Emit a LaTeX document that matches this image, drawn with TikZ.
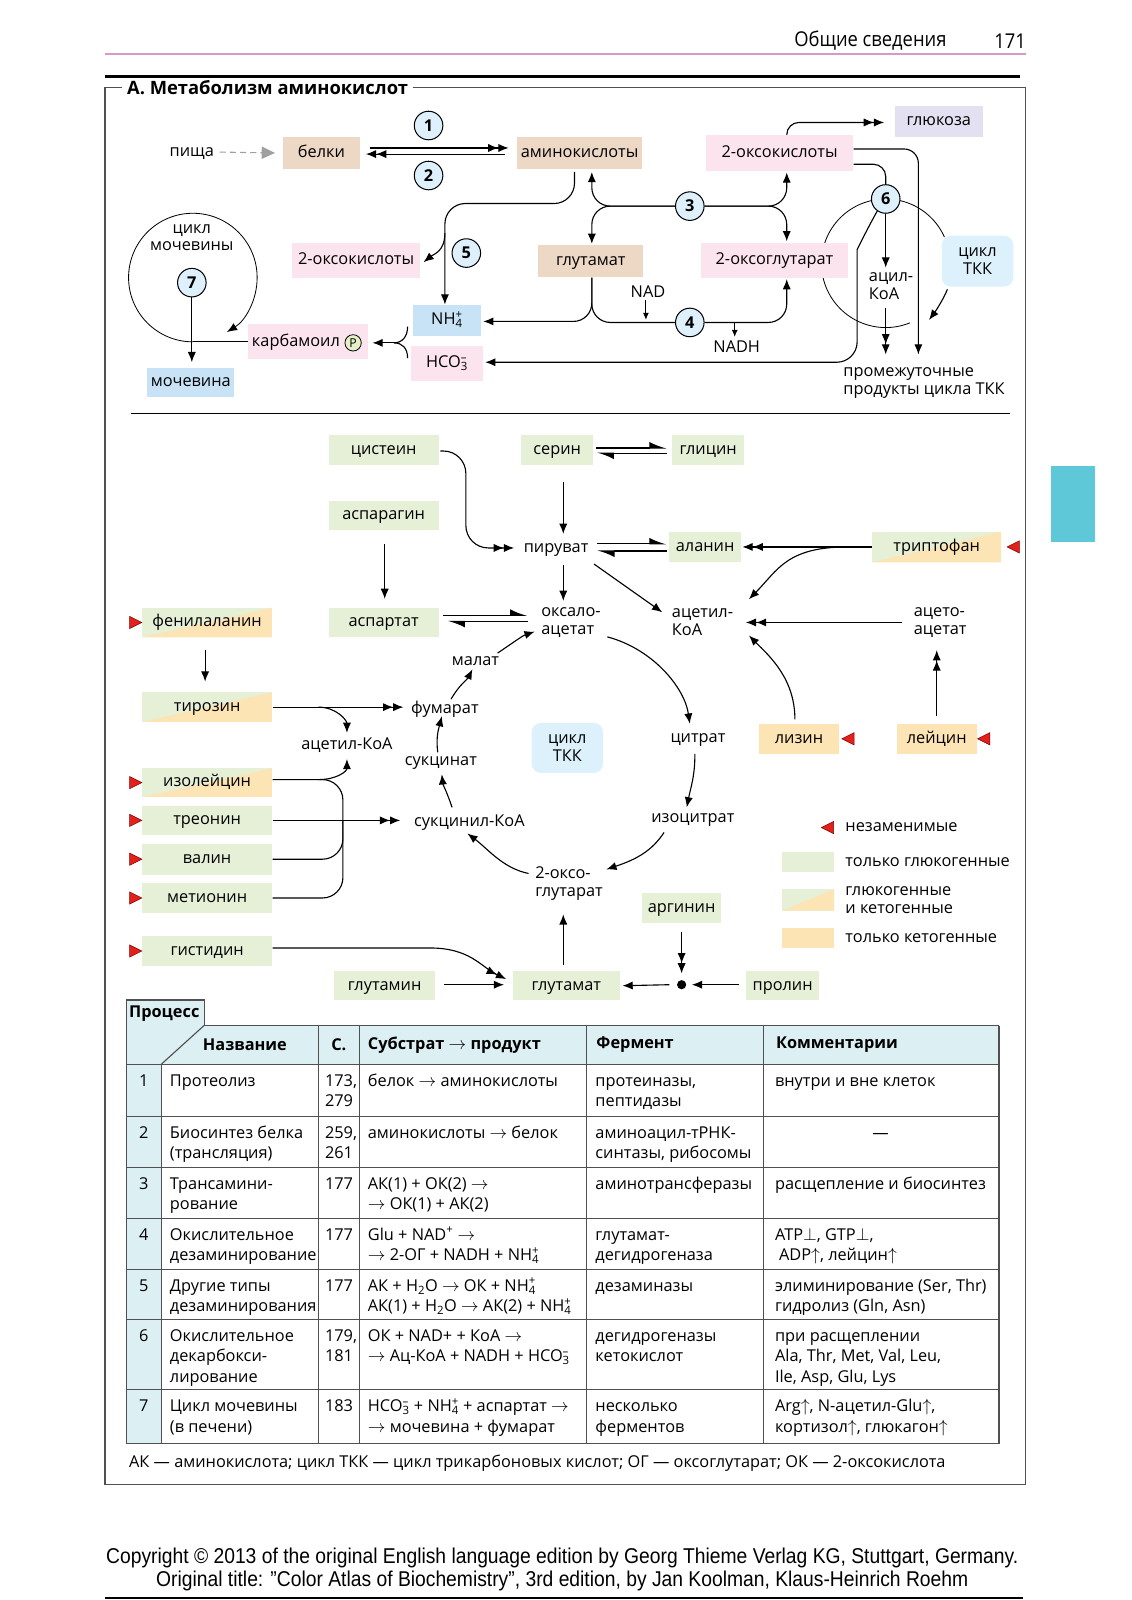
\documentclass[tikz,border=0pt]{standalone}
\usepackage{fontspec}
\setmainfont{Open Sans}
\newfontfamily\narrowfont{Liberation Sans}
\usetikzlibrary{arrows.meta,calc}

\definecolor{tanc}{HTML}{EDD7C5}
\definecolor{pinkc}{HTML}{FCE4EE}
\definecolor{lavc}{HTML}{E3E1F1}
\definecolor{bluec}{HTML}{C8E3F5}
\definecolor{tcac}{HTML}{DDF1FC}
\definecolor{numc}{HTML}{DDF0FB}
\definecolor{grnc}{HTML}{E5F0D7}
\definecolor{orgc}{HTML}{FDE4B5}
\definecolor{redc}{HTML}{E2211C}
\definecolor{thc}{HTML}{DCEFF3}
\definecolor{pkline}{HTML}{D59AC8}
\definecolor{tabc}{HTML}{5FC8D8}
\definecolor{frmc}{HTML}{505050}
\definecolor{phc}{HTML}{E5F0C8}

\newcommand\dfont{\fontsize{16}{17.5}\selectfont}
\newcommand\tfont{\fontsize{16}{20}\selectfont}
\newcommand\ion[2]{\rlap{\textsuperscript{#2}}\textsubscript{#1}}

\tikzset{
  essR/.pic={\filldraw[fill=redc, draw=red!50!black, line width=.5pt] (0,-6) -- (12,0) -- (0,6) -- cycle;},
  essL/.pic={\filldraw[fill=redc, draw=red!50!black, line width=.5pt] (0,0) -- (12,-6) -- (12,6) -- cycle;}
}

\begin{document}
\begin{tikzpicture}[x=1pt,y=-1pt,
    every node/.style={font=\dfont, inner sep=1pt},
    line width=1.1pt,
    lbl/.style={text height=8.5pt, text depth=0pt},
    mlbl/.style={align=left, anchor=west},
    box/.style={inner sep=0pt, text height=8.5pt, text depth=0pt},
    tanbox/.style={box, fill=tanc},
    pinkbox/.style={box, fill=pinkc},
    bluebox/.style={box, fill=bluec},
    lavbox/.style={box, fill=lavc},
    grnbox/.style={box, fill=grnc},
    orgbox/.style={box, fill=orgc},
    splitbox/.style={box, fill=grnc, path picture={\fill[orgc] (path picture bounding box.south west) -- (path picture bounding box.north east) -- (path picture bounding box.south east) -- cycle;}},
    tcabox/.style={fill=tcac, rounded corners=9pt, align=center, inner sep=0pt},
    num/.style={circle, draw, line width=1pt, fill=numc, minimum size=28pt, inner sep=0pt, font=\dfont\bfseries},
    arcline/.style={line width=0.8pt},
    ar/.style={-{Latex[length=10pt,width=8pt]}},
    dar/.style={-{Latex[length=10pt,width=8pt]Latex[length=10pt,width=8pt]}},
    sar/.style={-{Latex[length=7pt,width=6pt]}},
    harp/.style={-{Latex[left,length=15pt,width=12pt]}},
    fd/.style={draw=gray!75, dash pattern=on 6pt off 4pt, -{Triangle[length=13pt,width=12pt,fill=gray!75]}},
    frm/.style={draw=frmc, line width=1.3pt},
    tline/.style={draw=frmc, line width=1.1pt},
    cell/.style={anchor=north west, inner sep=0pt, align=left, font=\tfont},
    hcell/.style={font=\tfont\bfseries, inner sep=0pt}]

\useasboundingbox (0,0) rectangle (1109,1568);

% page head
\node[font=\fontsize{20}{24}\selectfont] (hd) at (853,40) {\scalebox{0.9}[1]{Общие сведения}};
\node[font=\fontsize{20}{24}\selectfont] (pg) at (990,40) {\scalebox{0.9}[1]{171}};
\draw[pkline, line width=1.4pt] (103,53) -- (1005,53);
\draw[line width=2.6pt] (103,75) -- (1000,75);
\fill[tabc] (1030,457) rectangle (1073,531);

% frame and title
\node[anchor=west, inner sep=4pt, font=\fontsize{18}{20}\selectfont\bfseries] (ttl) at (120,86) {А. Метаболизм аминокислот};
\draw[frm] (ttl.east) -- (1005,86) -- (1005,1455) -- (103,1455) -- (103,86) -- (ttl.west);

% cycles drawn below the boxes
\coordinate (tkc) at (868,258);
\coordinate (uc) at (189,272);
\draw[arcline] (tkc) ++(68:63) arc[start angle=68, end angle=336, radius=63];
\draw[arcline, ar] (uc) ++(90:63) arc[start angle=90, end angle=418, radius=63];

% ---------- upper part
\node[lbl] (food) at (188,149) {пища};
\node[tanbox, minimum width=76pt, minimum height=31pt] (prot) at (315,150) {белки};
\node[tanbox, minimum width=122pt, minimum height=32pt] (aa) at (568,150) {аминокислоты};
\node[pinkbox, minimum width=144pt, minimum height=35pt] (oxoR) at (764,150) {2-оксокислоты};
\node[lavbox, minimum width=86pt, minimum height=30pt] (gluc) at (920,119) {глюкоза};
\node[tanbox, minimum width=103pt, minimum height=31pt] (glu) at (579,256) {глутамат};
\node[pinkbox, minimum width=144pt, minimum height=34pt] (og) at (759,255) {2-оксоглутарат};
\node[pinkbox, minimum width=125pt, minimum height=34pt] (oxoL) at (349,255) {2-оксокислоты};
\node[bluebox, minimum width=66pt, minimum height=30pt] (nh4) at (438,314) {NH\ion{4}{+}};
\node[pinkbox, minimum width=70pt, minimum height=34pt] (hco3) at (438,356) {HCO\ion{3}{–}};
\node[pinkbox, minimum width=117pt, minimum height=34pt] (carb) at (302,335) {карбамоил\kern24pt};
\node[circle, draw, line width=.8pt, fill=phc, inner sep=0pt, minimum size=16pt, font=\fontsize{12}{12}\selectfont] (phos) at ($(carb.east)+(-15,1)$) {P};
\node[bluebox, minimum width=85pt, minimum height=29pt] (urea) at (187,375) {мочевина};
\node[tcabox, minimum width=70pt, minimum height=50pt] (tcaT) at (958,256) {цикл\\ТКК};
\node[align=center] (ucyc) at (188,233) {цикл\\мочевины};
\node[mlbl] (acyl) at (850,280) {ацил-\\КоА};
\node[mlbl] (interm) at (825,375) {промежуточные\\продукты цикла ТКК};
\node[lbl] (nad) at (635,287) {NAD};
\node[lbl] (nadh) at (722,341) {NADH};
\foreach \k/\px/\py in {1/420/123, 2/420/172, 3/676/202, 4/676/316, 5/457/248, 6/868/195, 7/188/277}
  \node[num] (n\k) at (\px,\py) {\k};

% protein turnover
\draw[fd, shorten <=4pt, shorten >=7pt] (food.east) -- (prot.west);
\draw[dar] ($(prot.east)+(9,-5)$) -- ($(aa.west)+(-8,-5)$);
\draw[dar] ($(aa.west)+(-12,1)$) -- ($(prot.east)+(5,1)$);
\draw[dar, rounded corners=12pt] ($(oxoR.north)+(7,0)$) |- ($(gluc.west)+(-10,1)$);

% transamination (3)
\draw[ar, rounded corners=18pt] (n3.west) -| ($(aa.south)+(12,2)$);
\draw[ar, rounded corners=18pt] (n3.west) -| ($(glu.north)+(1,-1)$);
\draw[ar, rounded corners=18pt] (n3.east) -| ($(oxoR.south)+(7,1)$);
\draw[ar, rounded corners=18pt] (n3.east) -| ($(og.north)+(12,-1)$);

% oxidative deamination (4)
\draw[rounded corners=18pt] ($(glu.south)+(1,0)$) |- (n4.west);
\draw[ar, rounded corners=18pt] ($(glu.south)+(1,0)$) |- ($(nh4.east)+(2,1)$);
\draw[ar, rounded corners=18pt] (n4.east) -| ($(og.south)+(12,1)$);
\draw[sar] ($(nad.south)+(-2,1)$) -- ($(nad.south |- n4.north)+(-2,12)$);
\draw[sar] ($(nadh.north |- n4.center)+(-2,0)$) -- ($(nadh.north)+(-2,-5)$);

% other deaminations (5)
\draw[ar, rounded corners=20pt] ($(aa.south)+(-5,2)$) |- ($(nh4.north)+(-2,-99)$) -- ($(nh4.north)+(-2,0)$);
\draw[ar] ($(nh4.north)+(-2,-70)$) .. controls +(0,18) and +(10,-8) .. ($(oxoL.east)+(3,2)$);

% carbamoyl phosphate and urea cycle (7)
\coordinate (jn) at ($(carb.east)+(25,1)$);
\draw ($(nh4.west)+(-5,6)$) .. controls +(0,10) and +(8,0) .. (jn);
\draw ($(hco3.west)+(-3,-5)$) .. controls +(0,-10) and +(8,0) .. (jn);
\draw[ar] (jn) -- ($(carb.east)+(4,1)$);
\draw (carb.west) -- (carb.west -| uc);
\draw[ar] (n7.south) -- ($(urea.north)+(1,-5)$);

% oxidative decarboxylation (6)
\coordinate (h6) at ($(n6.south)+(-28,55)$);
\draw[ar, rounded corners=20pt] (n6.235) .. controls +(-8,14) and +(0,-20) .. (h6) |- ($(hco3.east)+(2,-1)$);
\draw[ar, rounded corners=14pt] ($(oxoR.east)+(0,-4)$) -| ($(interm.north west)+(75,-11)$);
\draw[rounded corners=12pt] ($(oxoR.east)+(0,11)$) -| (n6.north);
\draw[ar] (n6.south) -- ($(acyl.north -| n6)+(0,-3)$);
\draw[dar] ($(acyl.south -| n6)+(0,7)$) -- ($(interm.north -| n6)+(0,-11)$);
\draw[ar] ($(tcaT.south west)+(6,2)$) .. controls +(-4,10) and +(6,-8) .. ++(-18,30);

\draw[line width=1pt] (128,405) -- (990,405);

% ---------- lower part
\node[grnbox, minimum width=108pt, minimum height=29pt] (cys) at (376,441) {цистеин};
\node[grnbox, minimum width=70pt, minimum height=29pt] (ser) at (546,441) {серин};
\node[grnbox, minimum width=70pt, minimum height=29pt] (gly) at (694,441) {глицин};
\node[grnbox, minimum width=108pt, minimum height=29pt] (asn) at (376,505) {аспарагин};
\node[grnbox, minimum width=108pt, minimum height=29pt] (asp) at (376,610) {аспартат};
\node[grnbox, minimum width=70pt, minimum height=30pt] (ala) at (691,536) {аланин};
\node[splitbox, minimum width=126pt, minimum height=30pt] (trp) at (918,536) {триптофан};
\node[splitbox, minimum width=127pt, minimum height=29pt] (phe) at (203,610) {фенилаланин};
\node[splitbox, minimum width=127pt, minimum height=29pt] (tyr) at (203,693) {тирозин};
\node[splitbox, minimum width=127pt, minimum height=28pt] (ile) at (203,767) {изолейцин};
\node[grnbox, minimum width=127pt, minimum height=28pt] (thr) at (203,804) {треонин};
\node[grnbox, minimum width=127pt, minimum height=30pt] (val) at (203,842) {валин};
\node[grnbox, minimum width=127pt, minimum height=29pt] (met) at (203,880) {метионин};
\node[grnbox, minimum width=127pt, minimum height=29pt] (his) at (203,932) {гистидин};
\node[orgbox, minimum width=78pt, minimum height=29pt] (lys) at (783,724) {лизин};
\node[orgbox, minimum width=78pt, minimum height=29pt] (leu) at (918,724) {лейцин};
\node[grnbox, minimum width=99pt, minimum height=28pt] (gln) at (377,966) {глутамин};
\node[grnbox, minimum width=105pt, minimum height=28pt] (gluB) at (555,966) {глутамат};
\node[grnbox, minimum width=78pt, minimum height=30pt] (arg) at (668,890) {аргинин};
\node[grnbox, minimum width=72pt, minimum height=28pt] (pro) at (767,966) {пролин};
\node[circle, fill, inner sep=0pt, minimum size=9pt] (jd) at (668,965) {};
\node[tcabox, minimum width=70pt, minimum height=49pt] (tcaM) at (556,733) {цикл\\ТКК};

\node[lbl] (pyr) at (545,537) {пируват};
\node[mlbl] (oaa) at (529,610) {оксало-\\ацетат};
\node[mlbl] (acoaR) at (657,610) {ацетил-\\КоА};
\node[mlbl] (acac) at (894,610) {ацето-\\ацетат};
\node[lbl] (cit) at (684,723) {цитрат};
\node[lbl] (icit) at (679,802) {изоцитрат};
\node[mlbl] (ogM) at (523,866) {2-оксо-\\глутарат};
\node[lbl] (scoa) at (460,806) {сукцинил-КоА};
\node[lbl] (succ) at (432,746) {сукцинат};
\node[lbl] (fum) at (436,695) {фумарат};
\node[lbl] (mal) at (466,648) {малат};
\node[lbl] (acoaL) at (340,730) {ацетил-КоА};

% essential amino acids
\foreach \py in {610,767,804,842,880,932}
  \pic at (127,\py) {essR};
\pic at (987,536) {essL};
\pic at (825,724) {essL};
\pic at (958,724) {essL};

% feeders
\draw[harp] ($(ser.east)+(3,-2)$) -- ($(gly.west)+(-5,-2)$);
\draw[harp] ($(gly.west)+(-5,3)$) -- ($(ser.east)+(3,3)$);
\draw[dar, rounded corners=22pt] ($(cys.east)+(1,1)$) -| ($(cys.east)+(26,50)$) |- ($(pyr.west)+(-8,0)$);
\draw[ar] ($(ser.south)+(6,16)$) -- ($(pyr.north)+(7,-8)$);
\draw[ar] ($(pyr.south)+(7,11)$) -- ($(oaa.north -| pyr.south)+(7,-5)$);
\draw[ar] ($(asn.south)+(1,13)$) -- ($(asp.north)+(1,-8)$);
\draw[harp] ($(asp.east)+(4,-7)$) -- ($(oaa.west)+(-12,-7)$);
\draw[harp] ($(oaa.west)+(-12,-1)$) -- ($(asp.east)+(8,-1)$);
\draw[harp] ($(pyr.east)+(7,-4)$) -- ($(ala.west)+(-2,-3)$);
\draw[harp] ($(ala.west)+(-2,4)$) -- ($(pyr.east)+(7,3)$);
\draw[dar] (trp.west) -- ($(ala.east)+(1,0)$);
\draw[ar] ($(trp.west)+(-24,0)$) .. controls +(-60,0) and +(28,-28) .. ($(acoaR.north east)+(14,-8)$);
\draw[ar] ($(pyr.south east)+(4,10)$) -- ($(acoaR.west)+(-8,-10)$);
\draw[dar] ($(acac.west)+(-10,0)$) -- ($(acoaR.east)+(11,0)$);
\draw[dar] ($(leu.north)+(0,-7)$) -- ($(acac.south west)+(24,11)$);
\draw[ar] ($(lys.north)+(-4,-4)$) .. controls +(0,-40) and +(20,20) .. ($(acoaR.south east)+(14,-2)$);
\draw[ar] ($(phe.south)+(-2,12)$) -- ($(tyr.north)+(-2,-10)$);
\draw[dar] (tyr.east) -- ($(fum.west)+(-6,-2)$);
\draw[ar] ($(tyr.east)+(45,0)$) .. controls +(18,0) and +(0,-12) .. ($(acoaL.north)+(0,-6)$);
\draw[ar] ($(ile.east)+(45,-3)$) .. controls +(18,0) and +(0,12) .. ($(acoaL.south)+(0,8)$);
\draw[rounded corners=20pt] ($(ile.east)+(0,-3)$) -| ($(thr.east)+(69,0)$);
\draw[rounded corners=20pt] (val.east) -| ($(thr.east)+(69,0)$);
\draw[rounded corners=20pt] (met.east) -| ($(thr.east)+(69,0)$);
\draw[dar] (thr.east) -- ($(scoa.west)+(-12,-2)$);
\draw[dar] ($(his.east)+(0,-3)$) -- ($(his.east)+(154,-3)$) .. controls +(40,0) and +(-25,-12) .. ($(gluB.north west)+(-6,8)$);
\draw[ar] ($(gln.east)+(8,-1)$) -- ($(gluB.west)+(-8,-1)$);
\draw[ar] ($(gluB.north)+(-3,-6)$) -- ($(ogM.south -| gluB.north)+(-3,12)$);
\draw[dar] ($(arg.south)+(0,8)$) -- ($(jd.north)+(0,-6)$);
\draw[ar] ($(pro.west)+(-6,-1)$) -- ($(jd.east)+(5,0)$);
\draw[ar] ($(jd.west)+(-7,0)$) -- ($(gluB.east)+(2,0)$);

% citrate cycle
\draw[ar] ($(oaa.south east)+(5,-2)$) .. controls +(45,12) and +(-5,-35) .. ($(cit.north)+(-8,-8)$);
\draw[ar] ($(cit.south)+(-3,10)$) .. controls +(0,22) and +(4,-20) .. ($(icit.north)+(-6,-5)$);
\draw[ar] ($(icit.south west)+(14,8)$) .. controls +(-12,18) and +(30,-10) .. ($(ogM.north east)+(2,4)$);
\draw[ar] ($(ogM.west)+(-5,-10)$) .. controls +(-25,-5) and +(20,15) .. ($(scoa.south)+(-2,5)$);
\draw[ar] ($(scoa.north)+(-17,-9)$) .. controls +(-5,-15) and +(1,10) .. ($(succ.south)+(1,7)$);
\draw[ar] ($(succ.north)+(-3,-3)$) .. controls +(-2,-15) and +(-3,12) .. ($(fum.south)+(-3,1)$);
\draw[ar] ($(fum.north)+(6,-4)$) .. controls +(8,-14) and +(-5,10) .. ($(mal.south)+(-3,2)$);
\draw[ar] ($(mal.east)+(-3,-8)$) .. controls +(15,-10) and +(-12,4) .. ($(oaa.west)+(-5,9)$);

% legend
\pic at (805,811) {essL};
\node[lbl, anchor=west] (lg1) at (827,811) {незаменимые};
\node[grnbox, minimum width=51pt, minimum height=20pt] (lgG) at (792,845) {};
\node[lbl, anchor=west] (lg2) at (827,845) {только глюкогенные};
\node[splitbox, minimum width=51pt, minimum height=21pt] (lgS) at (792,882) {};
\node[mlbl] (lg3) at (827,882) {глюкогенные\\и кетогенные};
\node[orgbox, minimum width=51pt, minimum height=20pt] (lgO) at (792,919) {};
\node[lbl, anchor=west] (lg4) at (827,919) {только кетогенные};

% ---------- table
\fill[thc] (124,980) rectangle (200,1005);
\fill[thc] (124,1005) rectangle (979,1043);
\fill[thc] (124,1043) rectangle (158,1415);
\draw[tline] (124,1005) |- (200,980) -- (200,1005) -- (979,1005);
\draw[tline] (124,1005) -- (124,1415) -- (979,1415) -- (979,1005);
\draw[tline] (200,1005) -- (158,1043);
\foreach \ry in {1043,1094,1144,1194,1244,1293,1362}
  \draw[tline] (124,\ry) -- (979,\ry);
\foreach \cx in {312,352,575,748}
  \draw[tline] (\cx,1005) -- (\cx,1415);
\draw[tline] (158,1043) -- (158,1415);

\node[anchor=west, inner sep=0pt, font=\tfont\bfseries] (hP) at (126,993) {Процесс};
\node[hcell] (hN) at (240,1024) {Название};
\node[hcell] (hC) at (332,1024) {С.};
\node[hcell, anchor=west] (hS) at (360,1024) {Субстрат $\rightarrow$ продукт};
\node[hcell, anchor=west] (hF) at (584,1024) {Фермент};
\node[hcell, anchor=west] (hK) at (760,1024) {Комментарии};

\node[cell, anchor=north] (r1n) at (141,1050) {\strut 1};
\node[cell] (r1a) at (166,1050) {\strut Протеолиз};
\node[cell] (r1b) at (318,1050) {\strut 173,\\279};
\node[cell] (r1c) at (360,1050) {\strut белок $\rightarrow$ аминокислоты};
\node[cell] (r1d) at (583,1050) {\strut протеиназы,\\пептидазы};
\node[cell] (r1e) at (759,1050) {\strut внутри и вне клеток};

\node[cell, anchor=north] (r2n) at (141,1101) {\strut 2};
\node[cell] (r2a) at (166,1101) {\strut Биосинтез белка\\(трансляция)};
\node[cell] (r2b) at (318,1101) {\strut 259,\\261};
\node[cell] (r2c) at (360,1101) {\strut аминокислоты $\rightarrow$ белок};
\node[cell] (r2d) at (583,1101) {\strut аминоацил-тРНК-\\синтазы, рибосомы};
\node[cell, anchor=north] (r2e) at (863,1101) {\strut —};

\node[cell, anchor=north] (r3n) at (141,1151) {\strut 3};
\node[cell] (r3a) at (166,1151) {\strut Трансамини-\\рование};
\node[cell] (r3b) at (318,1151) {\strut 177};
\node[cell] (r3c) at (360,1151) {\strut АК(1) + ОК(2) $\rightarrow$\\$\rightarrow$ ОК(1) + АК(2)};
\node[cell] (r3d) at (583,1151) {\strut аминотрансферазы};
\node[cell] (r3e) at (759,1151) {\strut расщепление и биосинтез};

\node[cell, anchor=north] (r4n) at (141,1201) {\strut 4};
\node[cell] (r4a) at (166,1201) {\strut Окислительное\\дезаминирование};
\node[cell] (r4b) at (318,1201) {\strut 177};
\node[cell] (r4c) at (360,1201) {\strut Glu + NAD\textsuperscript{+} $\rightarrow$\\$\rightarrow$ 2-ОГ + NADH + NH\ion{4}{+}};
\node[cell] (r4d) at (583,1201) {\strut глутамат-\\дегидрогеназа};
\node[cell] (r4e) at (759,1201) {\strut ATP$\perp$, GTP$\perp$,\\\hspace{4pt}ADP$\uparrow$, лейцин$\uparrow$};

\node[cell, anchor=north] (r5n) at (141,1251) {\strut 5};
\node[cell] (r5a) at (166,1251) {\strut Другие типы\\дезаминирования};
\node[cell] (r5b) at (318,1251) {\strut 177};
\node[cell] (r5c) at (360,1251) {\strut АК + H\textsubscript{2}O $\rightarrow$ ОК + NH\ion{4}{+}\\АК(1) + H\textsubscript{2}O $\rightarrow$ АК(2) + NH\ion{4}{+}};
\node[cell] (r5d) at (583,1251) {\strut дезаминазы};
\node[cell] (r5e) at (759,1251) {\strut элиминирование (Ser, Thr)\\гидролиз (Gln, Asn)};

\node[cell, anchor=north] (r6n) at (141,1300) {\strut 6};
\node[cell] (r6a) at (166,1300) {\strut Окислительное\\декарбокси-\\лирование};
\node[cell] (r6b) at (318,1300) {\strut 179,\\181};
\node[cell] (r6c) at (360,1300) {\strut ОК + NAD+ + КоА $\rightarrow$\\$\rightarrow$ Ац-КоА + NADH + HCO\ion{3}{–}};
\node[cell] (r6d) at (583,1300) {\strut дегидрогеназы\\кетокислот};
\node[cell] (r6e) at (759,1300) {\strut при расщеплении\\Ala, Thr, Met, Val, Leu,\\Ile, Asp, Glu, Lys};

\node[cell, anchor=north] (r7n) at (141,1369) {\strut 7};
\node[cell] (r7a) at (166,1369) {\strut Цикл мочевины\\(в печени)};
\node[cell] (r7b) at (318,1369) {\strut 183};
\node[cell] (r7c) at (360,1369) {\strut HCO\ion{3}{–} + NH\ion{4}{+} + аспартат $\rightarrow$\\$\rightarrow$ мочевина + фумарат};
\node[cell] (r7d) at (583,1369) {\strut несколько\\ферментов};
\node[cell] (r7e) at (759,1369) {\strut Arg$\uparrow$, N-ацетил-Glu$\uparrow$,\\кортизол$\uparrow$, глюкагон$\uparrow$};

\node[anchor=west, inner sep=0pt, font=\tfont] (fn) at (126,1434) {АК — аминокислота; цикл ТКК — цикл трикарбоновых кислот; ОГ — оксоглутарат; ОК — 2-оксокислота};

% page foot
\node[font=\narrowfont\fontsize{21}{23}\selectfont] (cp1) at (551,1527) {\scalebox{0.9}[1]{Copyright © 2013 of the original English language edition by Georg Thieme Verlag KG, Stuttgart, Germany.}};
\node[font=\narrowfont\fontsize{21}{23}\selectfont] (cp2) at (551,1549) {\scalebox{0.9}[1]{Original title: ”Color Atlas of Biochemistry”, 3rd edition, by Jan Koolman, Klaus-Heinrich Roehm}};
\draw[line width=1.4pt] (103,1566) -- (1003,1566);
\end{tikzpicture}
\end{document}
